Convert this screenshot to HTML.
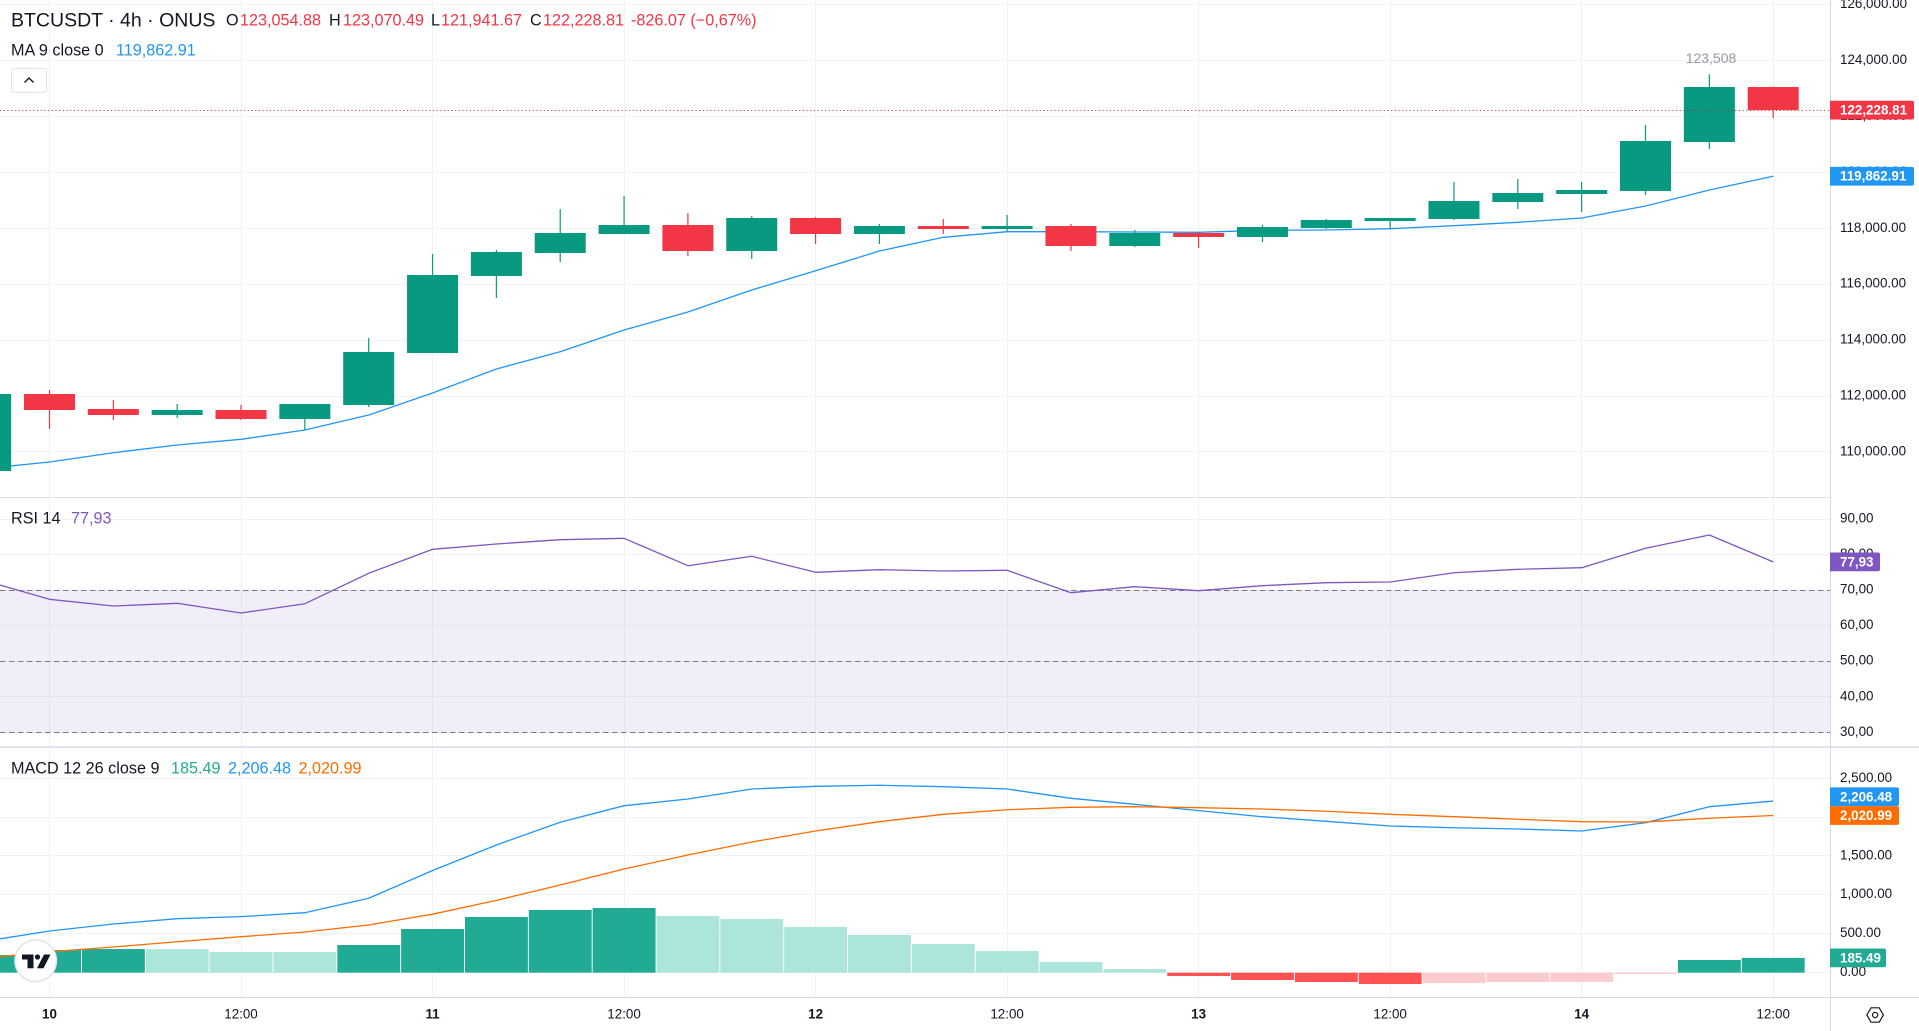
<!DOCTYPE html>
<html lang="en">
<head>
<meta charset="utf-8">
<title>BTCUSDT 4h chart</title>
<style>
  html,body{margin:0;padding:0;background:#fff;width:1919px;height:1031px;overflow:hidden}
  svg{display:block;position:absolute;left:0;top:0}
  text{font-family:"Liberation Sans",Arial,sans-serif;dominant-baseline:central}
  .axis{font-size:13.4px;fill:#131722}
  .tag{font-size:13.4px;fill:#fff;font-weight:bold}
  .leg{font-size:16.2px;fill:#131722}
  .red{fill:#f23645}
</style>
</head>
<body>
<svg id="chart" xmlns="http://www.w3.org/2000/svg" width="1919" height="1031" viewBox="0 0 1919 1031">
  <defs>
    <clipPath id="paneClip"><rect x="0" y="0" width="1830" height="998"></rect></clipPath>
  </defs>
  <g id="grid" clip-path="url(#paneClip)"></g>
  <g id="rsiPane" clip-path="url(#paneClip)"></g>
  <g id="macdPane" clip-path="url(#paneClip)"></g>
  <g id="pricePane" clip-path="url(#paneClip)"></g>
  <g id="frame">
    <rect x="0" y="497" width="1830" height="1" fill="#e0e3eb"></rect>
    <rect x="0" y="746" width="1919" height="2" fill="#e0e3eb"></rect>
    <rect x="0" y="997" width="1919" height="1" fill="#d6d9e0"></rect>
    <rect x="1830" y="0" width="1" height="1031" fill="#d6d9e0"></rect>
  </g>
  <g id="axes"></g>
  <g id="tags"></g>

  <g>
    <text x="11" y="20.7" font-size="19.5" fill="#131722">BTCUSDT · 4h · ONUS</text>
    <text class="leg" x="226" y="20.7">O</text>
    <text class="leg red" x="240" y="20.7">123,054.88</text>
    <text class="leg" x="329" y="20.7">H</text>
    <text class="leg red" x="343" y="20.7">123,070.49</text>
    <text class="leg" x="431" y="20.7">L</text>
    <text class="leg red" x="441" y="20.7">121,941.67</text>
    <text class="leg" x="530" y="20.7">C</text>
    <text class="leg red" x="543" y="20.7">122,228.81</text>
    <text class="leg red" x="631" y="20.7">-826.07 (−0,67%)</text>
    <text class="leg" x="11" y="50.7">MA 9 close 0</text>
    <text class="leg" x="116" y="50.7" style="fill:#2196f3">119,862.91</text>
    <g>
      <rect x="11.5" y="68.5" width="35" height="24" rx="3" fill="#fff" stroke="#e0e3eb"></rect>
      <path d="M24.5 82.5 L29 78 L33.5 82.5" fill="none" stroke="#131722" stroke-width="1.4"></path>
    </g>
    <text class="leg" x="11" y="518.5">RSI 14</text>
    <text class="leg" x="71" y="518.5" style="fill:#7e57c2">77,93</text>
    <text class="leg" x="11" y="768.5">MACD 12 26 close 9</text>
    <text class="leg" x="171" y="768.5" style="fill:#22ab94">185.49</text>
    <text class="leg" x="228" y="768.5" style="fill:#2196f3">2,206.48</text>
    <text class="leg" x="298.5" y="768.5" style="fill:#ff6d00">2,020.99</text>
    <text x="1711" y="58" font-size="14" fill="#9598a1" text-anchor="middle">123,508</text>
  </g>

  <g>
    <circle cx="35.7" cy="960.7" r="20.8" fill="#fff" stroke="#e0e3eb" stroke-width="1.5"></circle>
    <path d="M22 954.5H33.5V968.3H27.5V959.5H22Z" fill="#131722"></path>
    <circle cx="37.5" cy="957" r="2.6" fill="#131722"></circle>
    <path d="M44 954.5H50.5L43.5 968.3H37Z" fill="#131722"></path>
  </g>
  <g>
    <path d="M1866.8 1015 L1871 1007.8 H1879.2 L1883.4 1015 L1879.2 1022.2 H1871 Z" fill="none" stroke="#131722" stroke-width="1.2"></path>
    <circle cx="1875.1" cy="1015" r="2.6" fill="none" stroke="#131722" stroke-width="1.2"></circle>
  </g>
</svg>

<script>
// ---- categories ----
var barTimes = ["09 20:00","10 00:00","10 04:00","10 08:00","10 12:00","10 16:00","10 20:00","11 00:00","11 04:00","11 08:00","11 12:00","11 16:00","11 20:00","12 00:00","12 04:00","12 08:00","12 12:00","12 16:00","12 20:00","13 00:00","13 04:00","13 08:00","13 12:00","13 16:00","13 20:00","14 00:00","14 04:00","14 08:00","14 12:00"];
var timeLabels = ["10","12:00","11","12:00","12","12:00","13","12:00","14","12:00"];

// ---- price series ----
var opens  = [109316,112071,111535,111320,111499,111177,111678,113538,116293,117116,117796,118118,117188,118369,117796,118082,117975,118082,117367,117832,117689,118011,118261,118333,118941,119227,119335,121088,123054.88];
var highs  = [112100,112214,111857,111714,111678,111714,114075,117080,117224,118691,119156,118547,118440,118400,118154,118333,118476,118154,117939,117868,118118,118333,118369,119657,119764,119657,121696,123508,123070.49];
var lows   = [109300,110819,111141,111213,111141,110783,111606,113538,115506,116794,117796,117009,116902,117438,117438,117796,117903,117188,117331,117295,117510,117975,117975,118297,118691,118583,119191,120837,121941.67];
var closes = [112071,111499,111320,111499,111177,111714,113574,116329,117152,117832,118118,117188,118369,117796,118082,117975,118082,117367,117832,117689,118047,118297,118369,118977,119263,119370,121124,123054.88,122228.81];
var maValues = [109406,109638,109971,110247,110450,110783,111320,112107,112966,113585,114361,115005,115792,116483,117188,117678,117878,117878,117868,117857,117928,117939,117986,118093,118215,118369,118798,119370,119862.91];

// ---- RSI series ----
var rsiValues = [72.56,67.41,65.53,66.29,63.56,66.17,74.73,81.48,82.97,84.18,84.57,76.86,79.51,75.01,75.74,75.37,75.57,69.27,70.96,69.83,71.24,72.08,72.28,74.89,75.85,76.3,81.76,85.5,77.93];

// ---- MACD series ----
var histValues = [223,287,300,298,262,261,352,558,713,803,829,726,687,584,481,365,274,133,43,-48,-99,-125,-151,-138,-125,-124,-22,159,185.49];
var macdValues = [403,532,622,691,717,768,954,1312,1641,1933,2147,2233,2362,2397,2410,2392,2362,2242,2165,2083,2005,1946,1885,1863,1847,1821,1928,2134,2206.48];
var signalValues = [184,265,326,394,459,519,610,749,927,1125,1331,1512,1679,1821,1941,2036,2095,2126,2134,2121,2104,2075,2036,2005,1972,1941,1937,1985,2020.99];

// ---- tick labels ----
var priceTicks = [126000,124000,122000,120000,118000,116000,114000,112000,110000];
var rsiTicks = [90,80,70,60,50,40,30];
var rsiBands = [70,50,30];
var macdTicks = [2500,2000,1500,1000,500,0];

// ---- axis functions ----
function barX(k){ return 49.5 + 63.84 * (k - 1); }
function priceY(p){ return 228.3 - (p - 118000) * 0.02795; }
function rsiY(v){ return 732.3 - (v - 30) * 3.555; }
function macdY(v){ return 972.3 - v * 0.0776; }

var NS = "http://www.w3.org/2000/svg";
function make(tag, parent, attrs){
  var n = document.createElementNS(NS, tag);
  for (var a in attrs) n.setAttribute(a, attrs[a]);
  parent.appendChild(n);
  return n;
}
function fmt2(v){ return v.toLocaleString("en-US",{minimumFractionDigits:2,maximumFractionDigits:2}); }
function fmtComma(v){ return v.toFixed(2).replace(".", ","); }
function polyPoints(values, yFn){
  return values.map(function(v,k){ return barX(k).toFixed(2)+","+yFn(v).toFixed(2); }).join(" ");
}
function snap(v){ return Math.round(v - 0.5) + 0.5; }

var grid = document.getElementById("grid");
var pricePane = document.getElementById("pricePane");
var rsiPane = document.getElementById("rsiPane");
var macdPane = document.getElementById("macdPane");
var axes = document.getElementById("axes");
var tags = document.getElementById("tags");
var GRID = "#f1f2f6";

// horizontal grid lines and axis labels
priceTicks.forEach(function(t){
  var y = snap(priceY(t));
  var g = make("line", grid, {x1:0,x2:1830,y1:y,y2:y,stroke:GRID,"stroke-width":1});
  
  
  var l = make("text", axes, {x:1840,y:priceY(t)-1,"class":"axis"});
  l.textContent = fmt2(t);
  
  
});
rsiTicks.forEach(function(t){
  var y = snap(rsiY(t));
  var g = make("line", grid, {x1:0,x2:1830,y1:y,y2:y,stroke:GRID,"stroke-width":1});
  
  
  var l = make("text", axes, {x:1840,y:rsiY(t)-1,"class":"axis"});
  l.textContent = fmtComma(t);
  
  
});
macdTicks.forEach(function(t){
  var y = snap(macdY(t));
  var g = make("line", grid, {x1:0,x2:1830,y1:y,y2:y,stroke:GRID,"stroke-width":1});
  
  
  var l = make("text", axes, {x:1840,y:macdY(t)-1,"class":"axis"});
  l.textContent = fmt2(t);
  
  
});

// vertical grid lines and time labels (one label every 3 bars from the second bar)
timeLabels.forEach(function(label,j){
  var x = barX(1 + 3 * j);
  var g = make("line", grid, {x1:snap(x),x2:snap(x),y1:0,y2:997,stroke:GRID,"stroke-width":1});
  
  
  var l = make("text", axes, {x:x,y:1014,"class":"axis","text-anchor":"middle"});
  if (label.indexOf(":") < 0) l.setAttribute("font-weight","bold");
  l.textContent = label;
  
  
});

// ---- price pane ----
var maLine = make("polyline", pricePane, {points:polyPoints(maValues,priceY),fill:"none",stroke:"#2196f3","stroke-width":1.3,"stroke-linejoin":"round"});



barTimes.forEach(function(cat,k){
  var up = closes[k] >= opens[k];
  var col = up ? "#089981" : "#f23645";
  var x = barX(k);
  var top = priceY(Math.max(opens[k],closes[k]));
  var bot = priceY(Math.min(opens[k],closes[k]));
  var wick = make("line", pricePane, {x1:x,x2:x,y1:priceY(highs[k]),y2:priceY(lows[k]),stroke:col,"stroke-width":1.2});
  
  
  var body = make("rect", pricePane, {x:x-25.5,y:top,width:51,height:Math.max(1,bot-top),fill:col});
  
  
});

var lastClose = closes[closes.length-1];
var priceLineY = snap(priceY(lastClose));
var priceLine = make("line", pricePane, {x1:0,x2:1830,y1:priceLineY,y2:priceLineY,stroke:"#c2303c","stroke-width":1,"stroke-dasharray":"1 2.7"});



// ---- RSI pane ----
var band = make("rect", rsiPane, {x:0,y:rsiY(rsiBands[0]),width:1830,height:rsiY(rsiBands[2])-rsiY(rsiBands[0]),fill:"#7e57c2","fill-opacity":0.1});


rsiBands.forEach(function(b){
  var y = snap(rsiY(b));
  var l = make("line", rsiPane, {x1:0,x2:1830,y1:y,y2:y,stroke:"#787b86","stroke-width":1,"stroke-dasharray":"5.5 3.5"});
  
  
});
var rsiLine = make("polyline", rsiPane, {points:polyPoints(rsiValues,rsiY),fill:"none",stroke:"#7e57c2","stroke-width":1.3,"stroke-linejoin":"round"});



// ---- MACD pane ----
histValues.forEach(function(v,k){
  var prev = k > 0 ? histValues[k-1] : -Infinity;
  var rising = v >= prev;
  var col;
  if (v >= 0) col = rising ? "#22ab94" : "#ace5dc";
  else col = rising ? "#fccbcd" : "#ff5252";
  var y0 = macdY(0) + 0.4;
  var y1 = macdY(v);
  var bar = make("rect", macdPane, {x:barX(k)-31.4,y:Math.min(y0,y1),width:62.9,height:Math.abs(y1-y0),fill:col});
  
  
});
var macdLine = make("polyline", macdPane, {points:polyPoints(macdValues,macdY),fill:"none",stroke:"#2196f3","stroke-width":1.3,"stroke-linejoin":"round"});


var signalLine = make("polyline", macdPane, {points:polyPoints(signalValues,macdY),fill:"none",stroke:"#ff6d00","stroke-width":1.3,"stroke-linejoin":"round"});



// ---- last value tags ----
function addTag(cy, width, col, label, name){
  var x = 1830, h = 18.7, y = cy - h/2, r = 2;
  var p = make("path", tags, {d:"M"+x+" "+y+"H"+(x+width-r)+"q"+r+" 0 "+r+" "+r+"V"+(y+h-r)+"q0 "+r+" "+(-r)+" "+r+"H"+x+"Z",fill:col});
  
  
  var t = make("text", tags, {x:1840,y:cy,"class":"tag"});
  t.textContent = label;
  
  
}
var lastIdx = barTimes.length - 1;
addTag(priceY(closes[lastIdx]), 84, "#f23645", fmt2(closes[lastIdx]), "last-price-tag");
addTag(priceY(maValues[lastIdx]), 84, "#2196f3", fmt2(maValues[lastIdx]), "ma-value-tag");
addTag(rsiY(rsiValues[lastIdx]), 50, "#7e57c2", fmtComma(rsiValues[lastIdx]), "rsi-value-tag");
// the MACD tag is pushed up so it stacks directly above the signal tag
addTag(macdY(macdValues[lastIdx]) - 4.3, 69, "#2196f3", fmt2(macdValues[lastIdx]), "macd-value-tag");
addTag(macdY(signalValues[lastIdx]), 69, "#ff6d00", fmt2(signalValues[lastIdx]), "signal-value-tag");
addTag(macdY(histValues[lastIdx]), 56, "#22ab94", fmt2(histValues[lastIdx]), "histogram-value-tag");
</script>
</body>
</html>
